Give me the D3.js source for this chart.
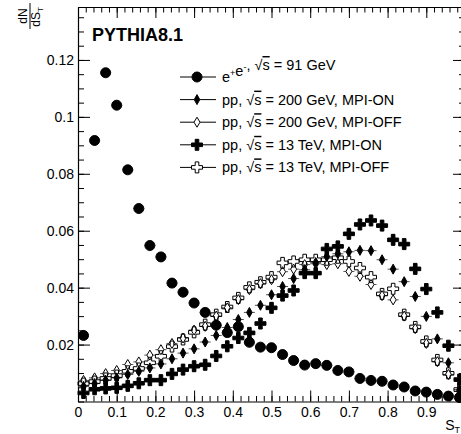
<!DOCTYPE html>
<html>
<head>
<meta charset="utf-8">
<script src="https://cdn.jsdelivr.net/npm/d3@7"></script>
<style>
  body { margin: 0; background: #fff; }
  svg { display: block; font-family: "Liberation Sans", Arial, Helvetica, sans-serif; }
</style>
</head>
<body>
<svg id="chart" width="461" height="434"></svg>
<script>
// S_T distributions, 35 bins on [0, 1]
const nBins = 35;
const binCenters = d3.range(nBins).map(i => (i + 0.5) / nBins);

const ee91 = [0.0232, 0.0917, 0.1155, 0.1041, 0.0814, 0.0678, 0.0548, 0.0508, 0.0416, 0.0384,
              0.0346, 0.0313, 0.0268, 0.0242, 0.0263, 0.0208, 0.0191, 0.0189, 0.0165, 0.0144,
              0.0128, 0.0133, 0.0127, 0.0109, 0.0104, 0.0081, 0.0074, 0.0071, 0.0058, 0.0051,
              0.0037, 0.0033, 0.0025, 0.0019, 0.0014];
const pp200On = [0.0053, 0.0063, 0.0075, 0.0083, 0.0095, 0.0106, 0.0118, 0.0132, 0.0150, 0.0170,
                 0.0185, 0.0209, 0.0232, 0.0260, 0.0288, 0.0313, 0.0338, 0.0375, 0.0404, 0.0432,
                 0.0463, 0.0488, 0.0509, 0.0519, 0.0526, 0.0531, 0.0530, 0.0498, 0.0465, 0.0421,
                 0.0369, 0.0299, 0.0220, 0.0136, 0.0042];
const pp200Off = [0.0074, 0.0083, 0.0098, 0.0109, 0.0130, 0.0139, 0.0163, 0.0182, 0.0204, 0.0223,
                  0.0251, 0.0264, 0.0300, 0.0329, 0.0358, 0.0393, 0.0414, 0.0428, 0.0456, 0.0465,
                  0.0481, 0.0484, 0.0481, 0.0484, 0.0457, 0.0440, 0.0411, 0.0372, 0.0357, 0.0300,
                  0.0256, 0.0204, 0.0140, 0.0095, 0.0036];
const pp13On = [0.0030, 0.0043, 0.0046, 0.0048, 0.0055, 0.0064, 0.0075, 0.0075, 0.0097, 0.0112,
                0.0124, 0.0129, 0.0160, 0.0194, 0.0223, 0.0241, 0.0274, 0.0329, 0.0372, 0.0390,
                0.0451, 0.0451, 0.0536, 0.0545, 0.0589, 0.0622, 0.0636, 0.0618, 0.0568, 0.0553,
                0.0466, 0.0395, 0.0313, 0.0196, 0.0077];
const pp13Off = [0.0063, 0.0070, 0.0081, 0.0091, 0.0106, 0.0116, 0.0136, 0.0159, 0.0193, 0.0218,
                 0.0243, 0.0270, 0.0305, 0.0332, 0.0364, 0.0401, 0.0419, 0.0437, 0.0487, 0.0492,
                 0.0498, 0.0498, 0.0498, 0.0505, 0.0492, 0.0469, 0.0437, 0.0378, 0.0396, 0.0305,
                 0.0262, 0.0211, 0.0146, 0.0099, 0.0042];

const xTicks = [0, 0.1, 0.2, 0.3, 0.4, 0.5, 0.6, 0.7, 0.8, 0.9];
const yTicks = [0.02, 0.04, 0.06, 0.08, 0.1, 0.12];

// marker shapes (ROOT-like)
const shapes = {
    circle: 'M 0,-5 A 5,5 0 1,1 0,5 A 5,5 0 1,1 0,-5 Z',
    diamond: 'M 0,-5 L 2.8,0 L 0,5 L -2.8,0 Z',
    openDiamond: 'M 0,-5 L 3,0 L 0,5 L -3,0 Z',
    cross: 'M -1.8,-5.5 L 1.8,-5.5 L 1.8,-1.8 L 5.5,-1.8 L 5.5,1.8 L 1.8,1.8 L 1.8,5.5 L -1.8,5.5 L -1.8,1.8 L -5.5,1.8 L -5.5,-1.8 L -1.8,-1.8 Z'
};

const series = [
    { values: ee91, shape: 'circle', fill: '#000', half: 5,
      label: [['e'], ['+', 'sup'], ['e'], ['-', 'sup'], [', '], ['√'], ['s', 'over'], [' = 91 GeV']] },
    { values: pp200On, shape: 'diamond', fill: '#000', half: 2.8,
      label: [['pp, '], ['√'], ['s', 'over'], [' = 200 GeV, MPI-ON']] },
    { values: pp200Off, shape: 'openDiamond', fill: 'none', half: 3,
      label: [['pp, '], ['√'], ['s', 'over'], [' = 200 GeV, MPI-OFF']] },
    { values: pp13On, shape: 'cross', fill: '#000', half: 5.5,
      label: [['pp, '], ['√'], ['s', 'over'], [' = 13 TeV, MPI-ON']] },
    { values: pp13Off, shape: 'cross', fill: 'none', half: 5.5,
      label: [['pp, '], ['√'], ['s', 'over'], [' = 13 TeV, MPI-OFF']] }
];

const svg = d3.select('#chart');
const margin = { left: 78, right: 465, top: 7, bottom: 401.5 };

const x = d3.scaleLinear().domain([0, 1]).range([margin.left, margin.right]);
const y = d3.scaleLinear().domain([0, 0.1386]).range([margin.bottom, margin.top]);

// axes: major + minor, mirrored on top/right
const minorX = d3.range(0, 1.0001, 0.02);
const minorY = d3.range(0, 0.1386, 0.005);

function styleAxis(g) {
    g.select('.domain').attr('stroke', '#000').attr('stroke-width', 1.2);
    g.selectAll('.tick line').attr('stroke', '#000').attr('stroke-width', 1);
    g.selectAll('.tick text').attr('font-size', 14).attr('fill', '#000')
      .attr('font-family', '"Liberation Sans", Arial, sans-serif');
}

svg.append('g').attr('transform', `translate(0,${margin.bottom})`)
   .call(d3.axisBottom(x).tickValues(minorX).tickSize(-5.5).tickFormat('').tickSizeOuter(0))
   .call(styleAxis);
svg.append('g').attr('transform', `translate(0,${margin.bottom})`)
   .call(d3.axisBottom(x).tickValues(xTicks).tickSize(-11).tickPadding(5.5).tickFormat(d3.format('')).tickSizeOuter(0))
   .call(styleAxis)
   .call(g => g.select('.domain').remove());

svg.append('g').attr('transform', `translate(0,${margin.top})`)
   .call(d3.axisTop(x).tickValues(minorX).tickSize(-5.5).tickFormat('').tickSizeOuter(0))
   .call(styleAxis);
svg.append('g').attr('transform', `translate(0,${margin.top})`)
   .call(d3.axisTop(x).tickValues(xTicks).tickSize(-11).tickFormat('').tickSizeOuter(0))
   .call(styleAxis)
   .call(g => g.select('.domain').remove());

svg.append('g').attr('transform', `translate(${margin.left},0)`)
   .call(d3.axisLeft(y).tickValues(minorY).tickSize(-6).tickFormat('').tickSizeOuter(0))
   .call(styleAxis);
svg.append('g').attr('transform', `translate(${margin.left},0)`)
   .call(d3.axisLeft(y).tickValues(yTicks).tickSize(-12).tickPadding(4).tickFormat(d3.format('')).tickSizeOuter(0))
   .call(styleAxis)
   .call(g => g.select('.domain').remove());

svg.append('g').attr('transform', `translate(${margin.right},0)`)
   .call(d3.axisRight(y).tickValues(minorY).tickSize(-6).tickFormat('').tickSizeOuter(0))
   .call(styleAxis);
svg.append('g').attr('transform', `translate(${margin.right},0)`)
   .call(d3.axisRight(y).tickValues(yTicks).tickSize(-12).tickFormat('').tickSizeOuter(0))
   .call(styleAxis)
   .call(g => g.select('.domain').remove());

// axis titles
const yTitle = svg.append('g').attr('transform', 'translate(30,16) rotate(-90)');
yTitle.append('text').attr('x', 0).attr('y', -3).attr('text-anchor', 'middle')
      .attr('font-size', 12).text('dN');
yTitle.append('line').attr('x1', -13).attr('x2', 13).attr('y1', 0).attr('y2', 0)
      .attr('stroke', '#000').attr('stroke-width', 1);
yTitle.append('text').attr('x', -1).attr('y', 10).attr('text-anchor', 'middle')
      .attr('font-size', 12)
      .call(t => {
          t.append('tspan').text('dS');
          t.append('tspan').attr('font-size', 8).attr('dy', 3).text('T');
      });

svg.append('text').attr('x', 460).attr('y', 430).attr('text-anchor', 'end').attr('font-size', 14)
   .call(t => {
       t.append('tspan').text('S');
       t.append('tspan').attr('font-size', 9).attr('dy', 3).text('T');
   });

svg.append('text').attr('x', 92).attr('y', 41).attr('font-size', 18).attr('font-weight', 'bold')
   .text('PYTHIA8.1');

// points with horizontal bin-width bars
const halfBin = (x(1 / nBins) - x(0)) / 2;
series.forEach(s => {
    const g = svg.append('g');
    const pts = binCenters.map((c, i) => ({ cx: x(c), cy: y(s.values[i]) }));
    g.selectAll('path.bar')
     .data(pts)
     .enter()
     .append('path')
     .attr('d', d => `M ${d.cx - halfBin},${d.cy} H ${d.cx - s.half} M ${d.cx + s.half},${d.cy} H ${d.cx + halfBin}`)
     .attr('stroke', '#555')
     .attr('stroke-width', 1);
    g.selectAll('path.mark')
     .data(pts)
     .enter()
     .append('path')
     .attr('transform', d => `translate(${d.cx},${d.cy})`)
     .attr('d', shapes[s.shape])
     .attr('fill', s.fill)
     .attr('stroke', '#000')
     .attr('stroke-width', 1);
});

// legend
const legend = svg.append('g').attr('transform', 'translate(180,77)');
series.forEach((s, i) => {
    const row = legend.append('g').attr('transform', `translate(0,${i * 22.6})`);
    row.append('path').attr('d', `M 0,0 H ${17 - s.half} M ${17 + s.half},0 H 36`)
       .attr('stroke', '#000').attr('stroke-width', 1);
    row.append('path').attr('transform', 'translate(17,0)').attr('d', shapes[s.shape])
       .attr('fill', s.fill).attr('stroke', '#000').attr('stroke-width', 1);
    const txt = row.append('text').attr('x', 42).attr('y', 5).attr('font-size', 14.5);
    s.label.forEach(([t, kind]) => {
        if (kind === 'sup') {
            txt.append('tspan').attr('font-size', 9).attr('dy', -6).text(t);
            txt.append('tspan').attr('dy', 6).text('');
        } else if (kind === 'over') {
            txt.append('tspan').style('text-decoration', 'overline').text(t);
        } else {
            txt.append('tspan').text(t);
        }
    });
});
</script>
</body>
</html>
